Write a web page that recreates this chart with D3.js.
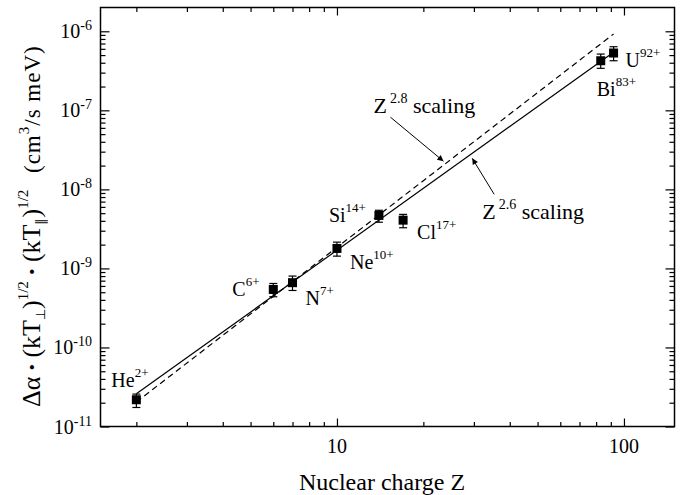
<!DOCTYPE html>
<html>
<head>
<meta charset="utf-8">
<script src="https://cdn.jsdelivr.net/npm/d3@7"></script>
<style>
  body { margin: 0; background: #fff; }
  text { font-family: "Liberation Serif", "Times New Roman", serif; fill: #000; }
</style>
</head>
<body>
<div id="chart"></div>
<script>
// Measured ions
const ions = ["He", "C", "N", "Ne", "Si", "Cl", "Bi", "U"];
const charges = ["2+", "6+", "7+", "10+", "14+", "17+", "83+", "92+"];
const nuclearZ = [2, 6, 7, 10, 14, 17, 83, 92];
const rate = [2.18e-11, 5.42e-10, 6.6e-10, 1.79e-9, 4.68e-9, 4.08e-9, 4.24e-7, 5.31e-7];
const rateLow = [1.74e-11, 4.38e-10, 5.26e-10, 1.43e-9, 3.84e-9, 3.27e-9, 3.4e-7, 4.24e-7];
const rateHigh = [2.57e-11, 6.45e-10, 8.0e-10, 2.15e-9, 5.44e-9, 4.83e-9, 5.15e-7, 6.38e-7];

// Scaling curves: coef * Z^exponent
const fitRange = [2, 92];
const fitExponents = [2.6, 2.8];
const fitCoefs = [4.27e-12, 2.93e-12];

// Axis ticks
const xMajor = [10, 100];
const yMajorExp = [-11, -10, -9, -8, -7, -6];

const width = 689;
const height = 495;
const margin = {top: 7.5, right: 14.5, bottom: 68.5, left: 100.5};

const svg = d3.select("#chart")
  .append("svg")
  .attr("width", width)
  .attr("height", height);

const x = d3.scaleLog()
  .domain([1.5, 150])
  .range([margin.left, width - margin.right]);

const y = d3.scaleLog()
  .domain([1e-11, 2e-6])
  .range([height - margin.bottom, margin.top]);

// Minor ticks
const xMinor = [];
[1, 10].forEach(d => d3.range(2, 10).forEach(k => {
  const v = k * d;
  if (v > 1.5 && v < 150) xMinor.push(v);
}));
const yMinor = [];
yMajorExp.forEach(e => d3.range(2, 10).forEach(k => {
  const v = k * Math.pow(10, e);
  if (v < 2e-6) yMinor.push(v);
}));
const yMajor = yMajorExp.map(e => Math.pow(10, e));

const x0 = margin.left, x1 = width - margin.right;
const y0 = height - margin.bottom, y1 = margin.top;

function tickAxis(axis, transform) {
  const g = svg.append("g")
    .attr("transform", transform)
    .call(axis);
  g.select(".domain").remove();
  g.selectAll("text").remove();
  g.selectAll(".tick line").attr("stroke", "#000").attr("stroke-width", 1.2);
}

// Bottom / top
tickAxis(d3.axisBottom(x).tickValues(xMajor).tickSize(-8), `translate(0,${y0})`);
tickAxis(d3.axisBottom(x).tickValues(xMinor).tickSize(-4.5), `translate(0,${y0})`);
tickAxis(d3.axisTop(x).tickValues(xMajor).tickSize(-8), `translate(0,${y1})`);
tickAxis(d3.axisTop(x).tickValues(xMinor).tickSize(-4.5), `translate(0,${y1})`);
// Left / right
tickAxis(d3.axisLeft(y).tickValues(yMajor).tickSize(-9), `translate(${x0},0)`);
tickAxis(d3.axisLeft(y).tickValues(yMinor).tickSize(-5), `translate(${x0},0)`);
tickAxis(d3.axisRight(y).tickValues(yMajor).tickSize(-9), `translate(${x1},0)`);
tickAxis(d3.axisRight(y).tickValues(yMinor).tickSize(-5), `translate(${x1},0)`);

// Frame
svg.append("rect")
  .attr("x", x0)
  .attr("y", y1)
  .attr("width", x1 - x0)
  .attr("height", y0 - y1)
  .attr("fill", "none")
  .attr("stroke", "#000")
  .attr("stroke-width", 1.5);

// X tick labels
svg.selectAll(".xlab")
  .data(xMajor)
  .join("text")
  .attr("x", d => x(d))
  .attr("y", y0 + 26.5)
  .attr("text-anchor", "middle")
  .style("font-size", "20px")
  .text(d => d);

// Y tick labels with superscript exponent
yMajorExp.forEach(e => {
  const t = svg.append("text")
    .attr("x", 92)
    .attr("y", y(Math.pow(10, e)) + 7)
    .attr("text-anchor", "end")
    .style("font-size", "20px");
  t.append("tspan").text("10");
  t.append("tspan").attr("dy", -8).style("font-size", "14px").text("-" + Math.abs(e));
});

// Scaling lines
const fitLine = d3.line().x(d => x(d[0])).y(d => y(d[1]));
fitExponents.forEach((p, i) => {
  svg.append("path")
    .datum(fitRange.map(z => [z, fitCoefs[i] * Math.pow(z, p)]))
    .attr("d", fitLine)
    .attr("fill", "none")
    .attr("stroke", "#000")
    .attr("stroke-width", 1.2)
    .attr("stroke-dasharray", i === 1 ? "6,4" : null);
});

// Error bars
const pts = nuclearZ.map((z, i) => ({z, v: rate[i], lo: rateLow[i], hi: rateHigh[i], ion: ions[i], q: charges[i]}));
const eb = svg.append("g").attr("stroke", "#000").attr("stroke-width", 1.2);
pts.forEach(d => {
  eb.append("line").attr("x1", x(d.z)).attr("x2", x(d.z)).attr("y1", y(d.lo)).attr("y2", y(d.hi));
  [d.lo, d.hi].forEach(v => {
    eb.append("line").attr("x1", x(d.z) - 4).attr("x2", x(d.z) + 4).attr("y1", y(v)).attr("y2", y(v));
  });
});

// Markers
svg.selectAll(".pt")
  .data(pts)
  .join("rect")
  .attr("x", d => x(d.z) - 4.5)
  .attr("y", d => y(d.v) - 4.5)
  .attr("width", 9)
  .attr("height", 9)
  .attr("fill", "#000");

// Ion labels (offset from the point)
const labelOffset = {
  He: [-25, -13], C: [-41, 7], N: [13, 22], Ne: [13, 21],
  Si: [-50, 7], Cl: [14, 19], Bi: [-4, 35], U: [12, 14]
};
pts.forEach(d => {
  const o = labelOffset[d.ion];
  const t = svg.append("text")
    .attr("x", x(d.z) + o[0])
    .attr("y", y(d.v) + o[1])
    .style("font-size", "20px");
  t.append("tspan").text(d.ion);
  t.append("tspan").attr("dy", -10).style("font-size", "13px").text(d.q);
});

// Arrow marker
svg.append("defs").append("marker")
  .attr("id", "arrow")
  .attr("viewBox", "0 0 10 10")
  .attr("refX", 10)
  .attr("refY", 5)
  .attr("markerWidth", 8)
  .attr("markerHeight", 6)
  .attr("markerUnits", "userSpaceOnUse")
  .attr("orient", "auto")
  .append("path")
  .attr("d", "M0,0L10,5L0,10z")
  .attr("fill", "#000");

// Annotations for the scaling lines
const annZ = [29.6, 23.5];
const annTip = [[0, 5], [0, -4]];
const annTail = [[22, 36], [-53, -44]];
const annText = [[10, 61], [-70, -48]];
fitExponents.forEach((p, i) => {
  const tx = x(annZ[i]) + annTip[i][0];
  const ty = y(fitCoefs[i] * Math.pow(annZ[i], p)) + annTip[i][1];
  svg.append("line")
    .attr("x1", tx + annTail[i][0])
    .attr("y1", ty + annTail[i][1])
    .attr("x2", tx)
    .attr("y2", ty)
    .attr("stroke", "#000")
    .attr("stroke-width", 1)
    .attr("marker-end", "url(#arrow)");
  const t = svg.append("text")
    .attr("x", tx + annText[i][0])
    .attr("y", ty + annText[i][1])
    .style("font-size", "22px");
  t.append("tspan").text("Z");
  t.append("tspan").attr("dx", 3).attr("dy", -10).style("font-size", "14px").text(p.toFixed(1));
  t.append("tspan").attr("dy", 10).text(" scaling");
});

// X axis title
svg.append("text")
  .attr("x", 382)
  .attr("y", 490)
  .attr("text-anchor", "middle")
  .style("font-size", "24px")
  .text("Nuclear charge Z");

// Y axis title
const yt = svg.append("g").attr("transform", "translate(40,407) rotate(-90)");
const main = yt.append("text").attr("x", 0).attr("y", 0).style("font-size", "26px");
main.append("tspan").text("\u0394\u03B1");
main.append("tspan").style("font-weight", "bold").text("\u2009\u00B7\u2009");
main.append("tspan").text("(kT");
main.append("tspan").attr("dy", 5).style("font-size", "13px").text("\u22A5");
main.append("tspan").attr("dy", -5).text(")");
main.append("tspan").attr("dy", -12).style("font-size", "15px").text("1/2");
main.append("tspan").attr("dy", 12).style("font-weight", "bold").text("\u2009\u00B7\u2009");
main.append("tspan").text("(kT");
main.append("tspan").attr("dy", 5).style("font-size", "13px").text("\u2225");
main.append("tspan").attr("dy", -5).text(")");
main.append("tspan").attr("dy", -12).style("font-size", "15px").text("1/2");

const units = yt.append("text").attr("x", 234).attr("y", 0)
  .style("font-size", "23px")
  .style("letter-spacing", "1px");
units.append("tspan").text("(cm");
units.append("tspan").attr("dy", -11).style("font-size", "15px").text("3");
units.append("tspan").attr("dy", 11).text("/s meV)");
</script>
</body>
</html>
